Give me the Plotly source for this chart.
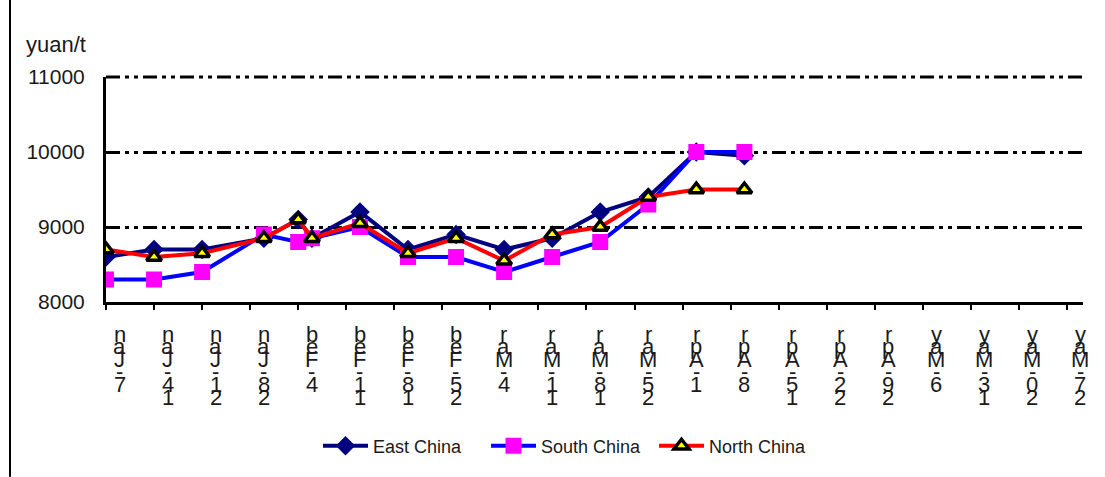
import plotly.graph_objects as go

# ---------------- data ----------------
point_dates = ["2011-01-07", "2011-01-14", "2011-01-21", "2011-01-30", "2011-02-04",
               "2011-02-06", "2011-02-13", "2011-02-20", "2011-02-27", "2011-03-06",
               "2011-03-13", "2011-03-20", "2011-03-27", "2011-04-03", "2011-04-10"]
east_china = [8600, 8700, 8700, 8850, 9100, 8850, 9200, 8700, 8900, 8700,
              8850, 9200, 9400, 10000, 9950]
south_china = [8300, 8300, 8400, 8900, 8800, 8850, 9000, 8600, 8600, 8400,
               8600, 8800, 9300, 10000, 10000]
north_china = [8700, 8600, 8650, 8850, 9100, 8850, 9050, 8650, 8850, 8550,
               8900, 9000, 9400, 9500, 9500]

tick_dates = ["2011-01-07", "2011-01-14", "2011-01-21", "2011-01-28", "2011-02-04",
              "2011-02-11", "2011-02-18", "2011-02-25", "2011-03-04", "2011-03-11",
              "2011-03-18", "2011-03-25", "2011-04-01", "2011-04-08", "2011-04-15",
              "2011-04-22", "2011-04-29", "2011-05-06", "2011-05-13", "2011-05-20",
              "2011-05-27"]
tick_labels = ["7-Jan", "14-Jan", "21-Jan", "28-Jan", "4-Feb", "11-Feb", "18-Feb",
               "25-Feb", "4-Mar", "11-Mar", "18-Mar", "25-Mar", "1-Apr", "8-Apr",
               "15-Apr", "22-Apr", "29-Apr", "6-May", "13-May", "20-May", "27-May"]
y_ticks = [8000, 9000, 10000, 11000]

# ---------------- figure ----------------
TEXT = "#1a1a1a"
FONT = "Liberation Sans, Arial, sans-serif"
GRID_DASH = "14px,5px,4px,5px,4px,5px"
fig = go.Figure()

fig.add_trace(go.Scatter(
    x=point_dates, y=east_china, name="East China", mode="lines+markers",
    line=dict(color="#000080", width=4),
    marker=dict(symbol="diamond", size=15, color="#000080",
                line=dict(color="#000080", width=0))))
fig.add_trace(go.Scatter(
    x=point_dates, y=south_china, name="South China", mode="lines+markers",
    line=dict(color="#0000FF", width=4),
    marker=dict(symbol="square", size=16, color="#FF00FF",
                line=dict(color="#FF00FF", width=0))))
fig.add_trace(go.Scatter(
    x=point_dates, y=north_china, name="North China", mode="lines+markers",
    line=dict(color="#FF0000", width=4),
    marker=dict(symbol="triangle-up", size=13, color="#FFFF00",
                line=dict(color="#000000", width=3.5))))

W, H = 1105, 477
L, R, T, B = 106, 22, 77, 172
pw, ph = W - L - R, H - T - B


def px_to_paper_x(px):
    return (px - L) / pw


def px_to_paper_y(py):
    return (H - B - py) / ph


# stacked (vertical) category labels, characters shown bottom-up like the source
annotations = []
for d, lab in zip(tick_dates, tick_labels):
    chars = list(reversed(lab))
    for i, ch in enumerate(chars):
        annotations.append(dict(
            x=d, xref="x", y=0, yref="paper", text=ch, showarrow=False,
            xanchor="center", yanchor="middle", xshift=13.5,
            yshift=-(32 + 12.6 * i),
            font=dict(family=FONT, size=22, color=TEXT)))

annotations.append(dict(
    x=px_to_paper_x(88), xref="paper", y=px_to_paper_y(44), yref="paper",
    text="yuan/t", showarrow=False, xanchor="right", yanchor="middle",
    font=dict(family=FONT, size=22, color=TEXT)))

shapes = [
    # outer chart-area border on the left
    dict(type="line", xref="paper", yref="paper",
         x0=px_to_paper_x(10), x1=px_to_paper_x(10),
         y0=px_to_paper_y(-5), y1=px_to_paper_y(H + 5),
         line=dict(color="#000000", width=2)),
    # top gridline at the axis maximum (plotly skips the gridline on the edge)
    dict(type="line", xref="paper", yref="paper", x0=0, x1=1, y0=1, y1=1,
         line=dict(color="#000000", width=3, dash=GRID_DASH)),
]

fig.update_layout(
    width=W, height=H,
    margin=dict(l=L, r=R, t=T, b=B, pad=0),
    paper_bgcolor="white", plot_bgcolor="white",
    font=dict(family=FONT, size=20, color=TEXT),
    showlegend=True,
    legend=dict(
        orientation="h", x=px_to_paper_x(318), xanchor="left",
        y=px_to_paper_y(451), yanchor="middle",
        font=dict(family=FONT, size=18, color=TEXT),
        itemwidth=45, entrywidth=108, entrywidthmode="pixels",
        bgcolor="rgba(0,0,0,0)", tracegroupgap=0),
    annotations=annotations,
    shapes=shapes,
)

fig.update_xaxes(
    type="date", range=["2011-01-07", "2011-05-29 08:00"],
    tickvals=tick_dates, showticklabels=False,
    ticks="outside", ticklen=5, tickwidth=2, tickcolor="black",
    showline=True, linewidth=3, linecolor="black",
    showgrid=False, zeroline=False)

fig.update_yaxes(
    range=[y_ticks[0], y_ticks[-1]], tickvals=y_ticks,
    ticktext=[str(v) for v in y_ticks],
    ticks="", showline=True, linewidth=3, linecolor="black",
    showgrid=True, gridcolor="black", gridwidth=3, griddash=GRID_DASH,
    zeroline=False, ticklabelstandoff=14,
    tickfont=dict(family=FONT, size=21, color=TEXT))

fig.write_html("out.html")
